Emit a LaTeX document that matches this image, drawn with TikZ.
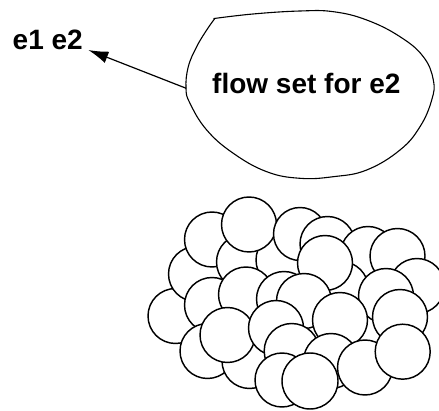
\documentclass[tikz,border=0pt]{standalone}
\usepackage{fontspec}
\setmainfont{Liberation Sans}
\usetikzlibrary{arrows.meta}
\begin{document}
\begin{tikzpicture}[x=1pt,y=-1pt,
  bubble/.style={draw=black, fill=white, line width=1.45pt},
  blobline/.style={draw=black, line width=1.1pt},
  lbl/.style={font=\fontsize{28}{32}\selectfont\bfseries, inner sep=0pt, anchor=base west},
  conn/.style={line width=1.2pt, -{Latex[length=20pt,width=12pt]}}]
\useasboundingbox (0,0) rectangle (439,411);
% blob
\draw[blobline] plot[smooth, tension=0.7] coordinates {(213.5,18.6) (253,14) (300,11) (333.3,11.7) (366.7,20) (400,36.7) (423.3,56.7) (433.3,80) (431.7,100) (420,126.7) (400,150) (366.7,170) (333.3,176.7) (300,178.3) (266.7,171.7) (233.3,153.3) (206.7,130) (190,103.3) (186,88.3) (188.3,66.7) (196.7,46.7) (206.7,30) (215,18.3)};
\node[lbl] (flow) at (212,93.3) {flow set for e2};
\node[lbl] (e12) at (12.5,49.3) {e1 e2};
\coordinate (blobL) at (186.2,88.3);
\coordinate (tip) at (88.3,50);
\draw[conn] (blobL) -- (tip);
% circles, back to front
\foreach \cx/\cy/\r in {
 175.5/316/27.5, 196/274/27.5, 212/239.5/27.5, 244/262/27.5, 283.5/260/27.5,
 249/224.5/27.5, 212/305/27.5, 246/294.5/27.5, 300/234/26.5, 327.5/244/27.5,
 368/254/27.5, 341/289/27.5, 325/263/27.5, 397.5/256/27.5, 417/286/27.5,
 386/296/27.5, 400/317/27.5, 284/299/27.5, 304/301/27.5, 340/320/27.5,
 207.5/351/27.5, 249.5/361/27.5, 227.5/335/27.5, 276/328/27.5, 291.7/351/27.5,
 331/361/27.5, 365/367.5/27.5, 402.7/351.7/27.5, 282/380/27, 310/381/28}
  \filldraw[bubble] (\cx,\cy) circle[radius=\r pt];
\end{tikzpicture}
\end{document}
